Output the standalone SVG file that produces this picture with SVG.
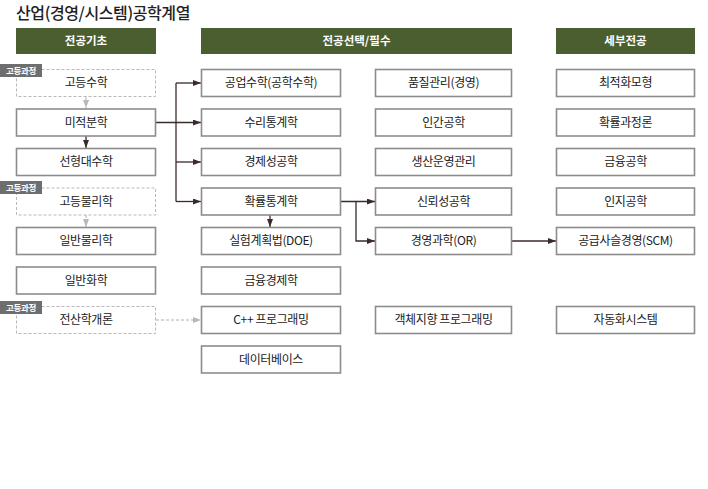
<svg xmlns="http://www.w3.org/2000/svg" width="708" height="489" viewBox="0 0 708 489">
<style>
text{font-family:"Noto Sans CJK KR","Noto Sans",sans-serif;}
.title{font-size:16px;font-weight:500;fill:#222;letter-spacing:-0.4px;}
.hdr rect{fill:#4b5e2f;}
.hdr text{fill:#fff;font-size:11.5px;font-weight:700;text-anchor:middle;}
.box rect{fill:#fff;stroke:#8c8c8c;stroke-width:1.6;}
.dash rect{fill:#fff;stroke:#b8b8b8;stroke-width:1;stroke-dasharray:3 2;}
.box text,.dash text{fill:#222;font-size:12px;text-anchor:middle;letter-spacing:-0.4px;}
.badge rect{fill:#6e6e6e;}
.badge text{fill:#fff;font-size:8.5px;font-weight:700;text-anchor:middle;letter-spacing:-0.3px;}
.ln{fill:none;stroke:#3a2b2b;stroke-width:1.3;}
.gl{fill:none;stroke:#b0b0b0;stroke-width:1;stroke-dasharray:3 2;}
</style>
<defs>
<marker id="ah" viewBox="0 0 8 6" refX="8" refY="3" markerWidth="8" markerHeight="6" markerUnits="userSpaceOnUse" orient="auto"><path d="M0,0L8,3L0,6z" fill="#3a2b2b"/></marker>
<marker id="ag" viewBox="0 0 8 6" refX="8" refY="3" markerWidth="8" markerHeight="6" markerUnits="userSpaceOnUse" orient="auto"><path d="M0,0L8,3L0,6z" fill="#b8b8b8"/></marker>
</defs>
<rect width="708" height="489" fill="#fff"/>
<text class="title" x="16" y="19">산업(경영/시스템)공학계열</text>

<g class="hdr" id="h1"><rect x="16" y="28" width="140" height="26"/><text x="86" y="45">전공기초</text></g>
<g class="hdr" id="h2"><rect x="201" y="28" width="311" height="26"/><text x="356.5" y="45">전공선택/필수</text></g>
<g class="hdr" id="h3"><rect x="556" y="28" width="139" height="26"/><text x="625.5" y="45">세부전공</text></g>

<g id="connectors">
<path class="gl" d="M86,97 V108" marker-end="url(#ag)"/>
<path class="ln" d="M86,136 V148" marker-end="url(#ah)"/>
<path class="gl" d="M86,215 V227" marker-end="url(#ag)"/>
<path class="gl" d="M156,320 H201" marker-end="url(#ag)"/>
<path class="ln" d="M156,122.5 H201" marker-end="url(#ah)"/>
<path class="ln" d="M176,83 V201.5"/>
<path class="ln" d="M176,83 H201" marker-end="url(#ah)"/>
<path class="ln" d="M176,162 H201" marker-end="url(#ah)"/>
<path class="ln" d="M176,201.5 H201" marker-end="url(#ah)"/>
<path class="ln" d="M270,215 V227" marker-end="url(#ah)"/>
<path class="ln" d="M341,201.5 H375" marker-end="url(#ah)"/>
<path class="ln" d="M356,201.5 V241 H375" marker-end="url(#ah)"/>
<path class="ln" d="M512,241 H556" marker-end="url(#ah)"/>
</g>

<g class="dash" id="n-hmath"><rect x="16.5" y="69.5" width="139" height="27"/><text x="86" y="87">고등수학</text></g>
<g class="box" id="n-calc"><rect x="16.5" y="109" width="139" height="27"/><text x="86" y="126.5">미적분학</text></g>
<g class="box" id="n-linalg"><rect x="16.5" y="148.5" width="139" height="27"/><text x="86" y="166">선형대수학</text></g>
<g class="dash" id="n-hphys"><rect x="16.5" y="188" width="139" height="27"/><text x="86" y="205.5">고등물리학</text></g>
<g class="box" id="n-phys"><rect x="16.5" y="227.5" width="139" height="27"/><text x="86" y="245">일반물리학</text></g>
<g class="box" id="n-chem"><rect x="16.5" y="267" width="139" height="27"/><text x="86" y="284.5">일반화학</text></g>
<g class="dash" id="n-cs"><rect x="16.5" y="306.5" width="139" height="27"/><text x="86" y="324">전산학개론</text></g>

<g class="badge" id="b1"><rect x="0" y="64" width="42" height="13"/><text x="21" y="73.5">고등과정</text></g>
<g class="badge" id="b2"><rect x="0" y="181" width="42" height="13"/><text x="21" y="190.5">고등과정</text></g>
<g class="badge" id="b3"><rect x="0" y="301" width="42" height="13"/><text x="21" y="310.5">고등과정</text></g>

<g class="box" id="n-engmath"><rect x="201.5" y="69.5" width="139" height="27"/><text x="271" y="87">공업수학(공학수학)</text></g>
<g class="box" id="n-mstat"><rect x="201.5" y="109" width="139" height="27"/><text x="271" y="126.5">수리통계학</text></g>
<g class="box" id="n-econ"><rect x="201.5" y="148.5" width="139" height="27"/><text x="271" y="166">경제성공학</text></g>
<g class="box" id="n-prob"><rect x="201.5" y="188" width="139" height="27"/><text x="271" y="205.5">확률통계학</text></g>
<g class="box" id="n-doe"><rect x="201.5" y="227.5" width="139" height="27"/><text x="271" y="245">실험계획법(DOE)</text></g>
<g class="box" id="n-fecon"><rect x="201.5" y="267" width="139" height="27"/><text x="271" y="284.5">금융경제학</text></g>
<g class="box" id="n-cpp"><rect x="201.5" y="306.5" width="139" height="27"/><text x="271" y="324">C++ 프로그래밍</text></g>
<g class="box" id="n-db"><rect x="201.5" y="346" width="139" height="27"/><text x="271" y="363.5">데이터베이스</text></g>

<g class="box" id="n-qc"><rect x="375.5" y="69.5" width="136" height="27"/><text x="443.5" y="87">품질관리(경영)</text></g>
<g class="box" id="n-hf"><rect x="375.5" y="109" width="136" height="27"/><text x="443.5" y="126.5">인간공학</text></g>
<g class="box" id="n-pom"><rect x="375.5" y="148.5" width="136" height="27"/><text x="443.5" y="166">생산운영관리</text></g>
<g class="box" id="n-rel"><rect x="375.5" y="188" width="136" height="27"/><text x="443.5" y="205.5">신뢰성공학</text></g>
<g class="box" id="n-or"><rect x="375.5" y="227.5" width="136" height="27"/><text x="443.5" y="245">경영과학(OR)</text></g>
<g class="box" id="n-oop"><rect x="375.5" y="306.5" width="136" height="27"/><text x="443.5" y="324">객체지향 프로그래밍</text></g>

<g class="box" id="n-opt"><rect x="556.5" y="69.5" width="138" height="27"/><text x="625.5" y="87">최적화모형</text></g>
<g class="box" id="n-sp"><rect x="556.5" y="109" width="138" height="27"/><text x="625.5" y="126.5">확률과정론</text></g>
<g class="box" id="n-fe"><rect x="556.5" y="148.5" width="138" height="27"/><text x="625.5" y="166">금융공학</text></g>
<g class="box" id="n-cog"><rect x="556.5" y="188" width="138" height="27"/><text x="625.5" y="205.5">인지공학</text></g>
<g class="box" id="n-scm"><rect x="556.5" y="227.5" width="138" height="27"/><text x="625.5" y="245">공급사슬경영(SCM)</text></g>
<g class="box" id="n-auto"><rect x="556.5" y="306.5" width="138" height="27"/><text x="625.5" y="324">자동화시스템</text></g>
</svg>
